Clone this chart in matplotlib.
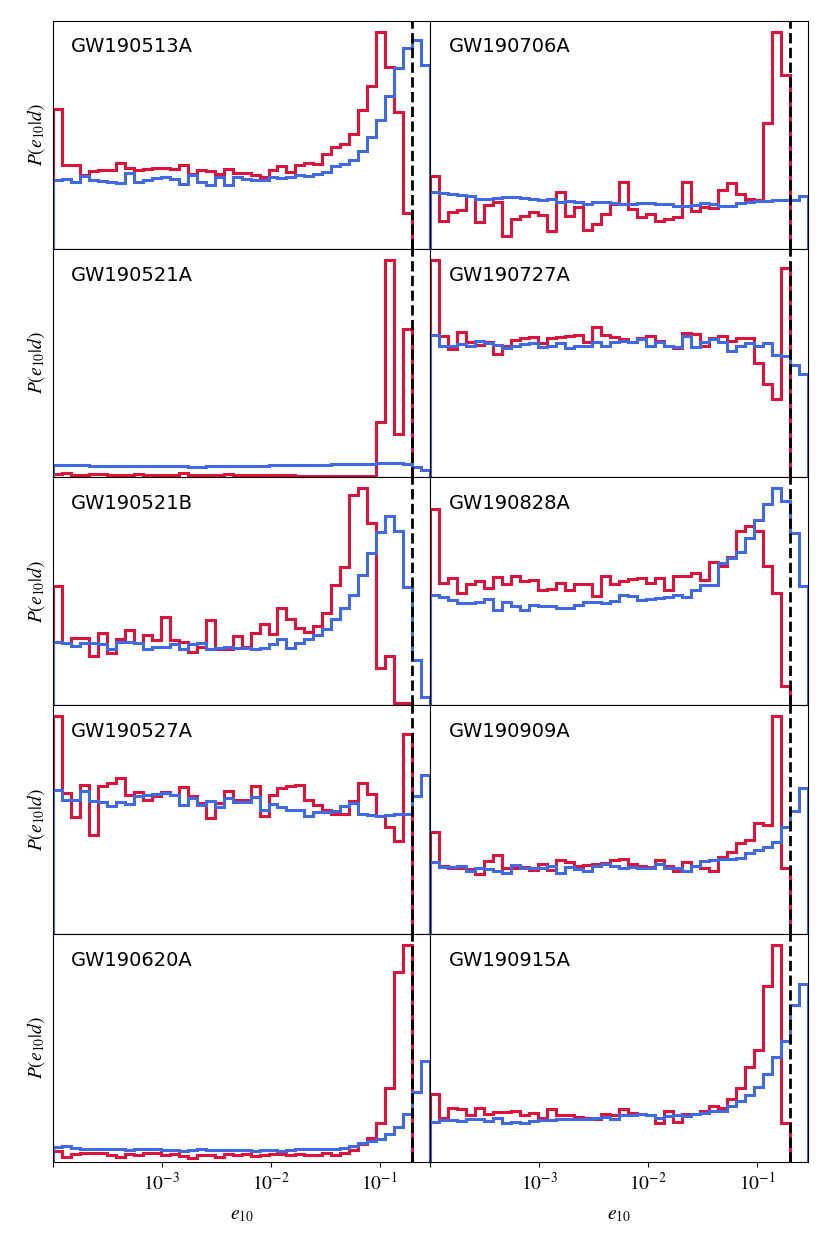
import numpy as np
from matplotlib import pyplot as plt
from matplotlib.ticker import NullLocator

plt.rcParams['mathtext.fontset'] = 'stix'

# panel heights (arbitrary units, 42 log bins from 1e-4)
red_GW190513A = [418,252,250,220,233,235,237,258,242,237,240,242,242,240,251,225,237,233,225,240,
                 227,227,220,215,237,249,230,252,257,255,285,305,315,345,415,487,650,545,410,107]
blue_GW190513A = [205,210,200,217,205,203,200,197,227,200,207,212,215,210,193,220,200,190,215,192,
                  215,210,205,205,215,212,215,220,217,225,230,247,253,267,293,335,385,457,540,600,625,550]

red_GW190521A = [10,14,8,6,9,9,7,6,6,10,8,6,6,6,12,7,6,6,6,9,
                 6,6,6,8,6,6,7,5,5,5,4,4,4,3,3,4,167,653,130,445]
blue_GW190521A = [37,37,36,36,35,35,35,34,34,34,34,33,33,33,33,32,32,33,33,34,
                  34,34,35,35,36,36,37,37,38,38,38,39,39,40,40,41,42,44,43,41,30,22]

red_GW190521B = [356,188,203,203,148,218,158,198,226,188,210,196,265,196,190,160,176,256,170,170,
                 208,176,216,243,213,290,260,233,220,238,278,360,413,628,650,546,113,148,8,8]
blue_GW190521B = [191,188,178,186,188,183,168,191,191,188,168,175,176,183,170,183,186,170,173,176,
                  173,171,170,173,183,198,173,188,198,210,228,258,290,330,390,456,520,566,523,353,136,26]

red_GW190527A = [653,423,350,446,298,443,453,468,418,426,403,413,426,418,440,413,393,348,393,428,
                 403,403,443,353,416,438,443,446,403,388,373,360,360,398,453,420,353,320,280,600]
blue_GW190527A = [433,403,403,430,398,396,383,396,390,413,416,420,423,416,386,408,388,400,380,408,
                  396,396,410,373,390,380,373,373,353,366,366,370,383,393,360,356,353,358,360,360,413,478]

red_GW190620A = [33,16,23,26,26,26,20,16,23,20,26,26,20,23,18,13,20,20,16,23,
                 20,23,18,20,23,23,20,23,20,20,26,20,26,36,53,73,118,223,570,653]
blue_GW190620A = [46,48,43,40,40,38,38,38,36,38,38,38,36,36,33,36,38,36,36,36,
                  36,36,33,36,36,33,36,38,38,38,38,40,43,48,56,63,68,83,106,143,210,303]

red_GW190706A = [217,85,110,115,157,80,130,140,40,90,100,110,102,55,170,100,125,57,75,105,
                 135,200,120,95,105,85,90,97,200,113,125,123,177,197,165,150,145,377,650,520]
blue_GW190706A = [170,167,163,160,158,148,150,153,155,155,153,150,145,150,140,142,140,135,140,140,
                  138,135,133,137,137,135,133,128,128,130,137,133,127,127,137,140,142,142,145,145,147,157]

red_GW190727A = [653,423,385,437,405,398,405,370,395,413,417,420,403,419,422,423,427,407,450,427,
                 420,415,405,417,423,410,395,387,433,430,395,417,423,410,417,417,343,280,235,627]
blue_GW190727A = [427,395,393,400,395,410,403,397,387,393,400,403,390,393,402,387,395,395,405,393,
                  405,410,405,415,395,407,393,390,425,390,407,415,407,380,395,403,393,403,367,363,337,310]

red_GW190828A = [591,368,383,338,366,373,353,386,366,390,373,376,348,350,368,348,366,366,328,388,
                 366,373,380,383,368,383,348,388,388,398,378,430,418,446,523,538,523,418,338,58]
blue_GW190828A = [331,326,316,308,308,310,320,288,310,298,286,303,298,300,293,293,303,310,310,308,
                  313,333,328,318,320,323,326,333,326,348,363,363,428,443,460,503,558,606,653,613,518,360]

red_GW190909A = [305,203,196,198,193,180,218,236,196,198,200,190,208,190,220,216,203,206,208,213,
                 220,223,210,203,200,220,203,188,216,203,198,188,228,243,270,280,330,326,650,196]
blue_GW190909A = [216,200,200,203,188,196,193,188,183,206,196,198,198,203,183,200,193,188,203,208,
                  203,198,200,198,196,208,198,198,188,203,218,220,223,223,226,240,250,258,273,320,366,436]

red_GW190915A = [203,133,163,158,140,163,143,150,150,153,140,148,133,158,140,140,136,133,130,143,
                 140,160,146,143,140,118,153,120,143,143,153,168,163,188,220,283,336,526,650,116]
blue_GW190915A = [120,126,126,123,128,128,123,133,116,120,118,123,126,126,130,130,128,128,133,136,
                  130,140,140,143,140,133,138,140,138,143,148,153,153,166,183,200,223,263,313,363,470,533]

left_events = ["GW190513A", "GW190521A", "GW190521B", "GW190527A", "GW190620A"]
right_events = ["GW190706A", "GW190727A", "GW190828A", "GW190909A", "GW190915A"]
left_red = [red_GW190513A, red_GW190521A, red_GW190521B, red_GW190527A, red_GW190620A]
left_blue = [blue_GW190513A, blue_GW190521A, blue_GW190521B, blue_GW190527A, blue_GW190620A]
right_red = [red_GW190706A, red_GW190727A, red_GW190828A, red_GW190909A, red_GW190915A]
right_blue = [blue_GW190706A, blue_GW190727A, blue_GW190828A, blue_GW190909A, blue_GW190915A]

E_MAX = 0.2
step = np.log10(E_MAX / 1e-4) / 40
edges = 10 ** (-4 + step * np.arange(43))

fig, axes = plt.subplots(5, 2, figsize=(8.3, 12.46), dpi=100)
fig.subplots_adjust(left=0.0635, right=0.9735, top=0.9834, bottom=0.0674, hspace=0, wspace=0)

for col, (names, reds, blues) in enumerate([(left_events, left_red, left_blue),
                                            (right_events, right_red, right_blue)]):
    for row in range(5):
        ax = axes[row, col]
        r = reds[row]
        b = blues[row]
        ax.stairs(r, edges[:len(r) + 1], color='crimson', lw=2.2)
        ax.stairs(b, edges[:len(b) + 1], color='royalblue', lw=2.2)
        ax.axvline(E_MAX, color='k', ls='--', lw=2)
        ax.set_xscale('log')
        ax.set_xlim(1e-4, edges[-1])
        ax.set_ylim(0, 1.05 * max(max(r), max(b)))
        ax.set_yticks([])
        ax.xaxis.set_minor_locator(NullLocator())
        ax.text(0.048, 0.885, names[row], transform=ax.transAxes, fontsize=14,
                ha='left', va='center')
        if col == 0:
            ax.set_ylabel(r'$P(e_{10}|d)$', fontsize=14)
        if row == 4:
            ax.set_xticks([1e-4, 1e-3, 1e-2, 1e-1])
            ax.set_xticklabels(['', r'$10^{-3}$', r'$10^{-2}$', r'$10^{-1}$'], fontsize=14)
            ax.set_xlabel(r'$e_{10}$', fontsize=14, labelpad=8)
        else:
            ax.set_xticks([])

fig.savefig('out.png')
